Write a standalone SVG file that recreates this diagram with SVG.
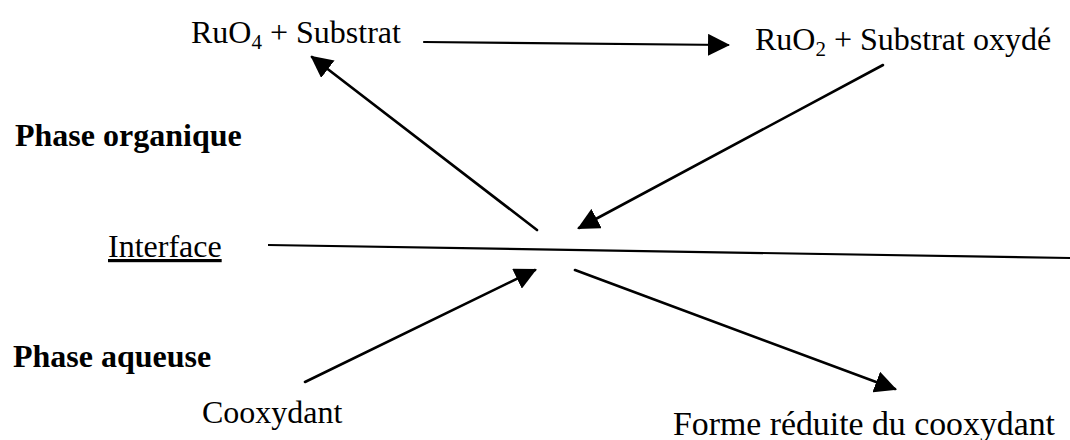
<svg xmlns="http://www.w3.org/2000/svg" width="1070" height="440" viewBox="0 0 1070 440">
  <style>
    .t { font-family: "Liberation Serif", "Times New Roman", serif; font-size: 32px; fill: #000; }
    .b { font-weight: bold; }
    .sub { font-size: 21px; }
    .c { stroke: #000; stroke-width: 2.6; fill: none; stroke-linecap: round; }
  </style>
  <defs>
    <marker id="ah" viewBox="0 0 22 22" refX="20" refY="11" markerWidth="22" markerHeight="22" markerUnits="userSpaceOnUse" orient="auto">
      <path d="M0,0 L22,11 L0,22 Z" fill="#000"/>
    </marker>
  </defs>
  <rect width="1070" height="440" fill="#fff"/>

  <g id="ruo4-substrat">
    <text class="t" x="191" y="43">RuO<tspan class="sub" dy="6">4</tspan><tspan dy="-6"> + Substrat</tspan></text>
  </g>
  <g id="ruo2-substrat-oxyde">
    <text class="t" x="755" y="50">RuO<tspan class="sub" dy="6">2</tspan><tspan dy="-6"> + Substrat oxydé</tspan></text>
  </g>
  <g id="phase-organique">
    <text class="t b" x="15" y="146">Phase organique</text>
  </g>
  <g id="interface">
    <text class="t" x="108" y="257" text-decoration="underline">Interface</text>
    <line x1="268" y1="245" x2="1070" y2="258" stroke="#000" stroke-width="2.2"/>
  </g>
  <g id="phase-aqueuse">
    <text class="t b" x="13" y="367">Phase aqueuse</text>
  </g>
  <g id="cooxydant">
    <text class="t" x="202" y="423">Cooxydant</text>
  </g>
  <g id="forme-reduite">
    <text class="t" x="673" y="435" style="font-size:33.8px">Forme réduite du cooxydant</text>
  </g>

  <g id="connectors">
    <line class="c" x1="424" y1="42" x2="728" y2="45" marker-end="url(#ah)" style="stroke-width:2.2"/>
    <line class="c" x1="537" y1="230" x2="312" y2="57" marker-end="url(#ah)"/>
    <line class="c" x1="883" y1="65" x2="579" y2="228" marker-end="url(#ah)"/>
    <line class="c" x1="305" y1="382" x2="535" y2="270" marker-end="url(#ah)"/>
    <line class="c" x1="575" y1="270" x2="895" y2="389" marker-end="url(#ah)"/>
  </g>
</svg>
